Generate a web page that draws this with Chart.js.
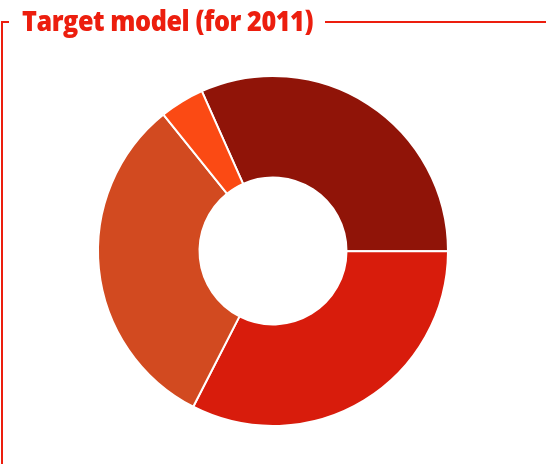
<!DOCTYPE html>
<html><head><meta charset="utf-8">
<script src="https://cdn.jsdelivr.net/npm/chart.js@4"></script>
<style>
html,body{margin:0;padding:0;background:#fff;}
#wrap{position:relative;width:546px;height:464px;overflow:hidden;}
#title{position:absolute;left:22px;top:0px;font-family:"Open Sans",sans-serif;font-weight:800;font-size:28px;color:#ec1e0e;white-space:nowrap;transform-origin:0 0;line-height:40px;letter-spacing:-0.5px;}
#rule{position:absolute;left:325px;top:21px;width:221px;height:2px;background:#ec1e0e;}
#bh{position:absolute;left:1px;top:21px;width:8px;height:2px;background:#ec1e0e;}
#bv{position:absolute;left:1px;top:21px;width:2px;height:443px;background:#ec1e0e;}
canvas{position:absolute;left:0;top:0;}
</style></head>
<body><div id="wrap">
<canvas id="c" width="546" height="464"></canvas>
<div id="title">Target model (for 2011)</div>
<div id="rule"></div><div id="bh"></div><div id="bv"></div>
</div>
<script>
const categories = ["Segment A","Segment B","Segment C","Segment D"];
const values = [31.7, 32.5, 31.7, 4.1];
const colors = ["#901408","#d81c0c","#d24a20","#fb4a14"];

const t = document.getElementById('title');
const w = t.getBoundingClientRect().width;
t.style.transform = 'scaleX(' + (291 / w) + ')';

new Chart(document.getElementById('c'), {
  type: 'doughnut',
  data: {
    labels: categories,
    datasets: [{
      data: values,
      backgroundColor: colors,
      borderColor: '#ffffff',
      borderWidth: 2
    }]
  },
  options: {
    responsive: false,
    animation: false,
    rotation: -24,
    cutout: '42%',
    layout: { padding: { top: 75, bottom: 37, left: 97, right: 97 } },
    plugins: { legend: { display: false }, tooltip: { enabled: false }, title: { display: false } }
  }
});
</script>
</body></html>
